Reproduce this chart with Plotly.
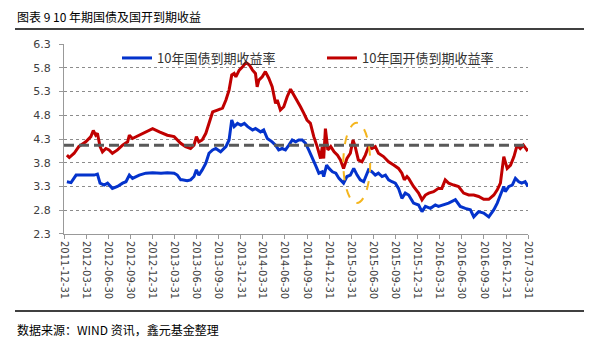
import plotly.graph_objects as go

# ---------------- data ----------------
cgb_dates = ["2012-01-12","2012-01-29","2012-02-19","2012-03-10","2012-04-07","2012-05-03","2012-05-17","2012-05-28",
             "2012-06-14","2012-06-28","2012-07-18","2012-08-08","2012-08-29","2012-09-12","2012-09-26","2012-10-09",
             "2012-11-06","2012-12-03","2012-12-31","2013-02-04","2013-03-02","2013-03-30","2013-04-12","2013-04-26",
             "2013-05-02","2013-05-23","2013-06-06","2013-06-20","2013-06-30","2013-07-10","2013-07-24","2013-08-08",
             "2013-08-21","2013-09-05","2013-09-18","2013-10-08","2013-10-30","2013-11-12","2013-11-23","2013-12-03",
             "2013-12-17","2013-12-31","2014-01-14","2014-01-28","2014-02-17","2014-03-01","2014-03-22","2014-04-04",
             "2014-04-19","2014-05-09","2014-05-23","2014-06-05","2014-06-19","2014-07-03","2014-07-17","2014-07-31",
             "2014-08-14","2014-08-27","2014-09-10","2014-09-24","2014-10-07","2014-10-21","2014-11-04","2014-11-18",
             "2014-12-02","2014-12-08","2014-12-20","2014-12-30","2015-01-13","2015-01-27","2015-02-09","2015-02-28",
             "2015-03-14","2015-03-28","2015-04-11","2015-04-25","2015-05-08","2015-05-22","2015-06-05","2015-06-11",
             "2015-06-25","2015-07-09","2015-07-22","2015-08-06","2015-08-20","2015-09-02","2015-09-16","2015-09-30",
             "2015-10-13","2015-10-27","2015-11-10","2015-11-24","2015-12-14","2016-01-04","2016-01-18","2016-02-01",
             "2016-02-22","2016-03-13","2016-03-26","2016-04-16","2016-05-07","2016-06-04","2016-06-24","2016-07-15",
             "2016-08-05","2016-08-19","2016-09-08","2016-09-29","2016-10-20","2016-11-10","2016-11-24","2016-12-07",
             "2016-12-21","2016-12-27","2017-01-11","2017-01-25","2017-02-07","2017-02-21","2017-03-05","2017-03-19",
             "2017-03-31"]
cgb_yield = [3.40,3.38,3.54,3.54,3.54,3.54,3.56,3.37,
             3.33,3.37,3.26,3.30,3.37,3.40,3.54,3.47,
             3.54,3.58,3.59,3.58,3.59,3.58,3.54,3.44,
             3.44,3.42,3.44,3.51,3.65,3.54,3.65,3.79,
             4.00,4.07,4.10,4.03,4.14,4.28,4.70,4.56,
             4.63,4.59,4.63,4.56,4.49,4.52,4.45,4.49,
             4.31,4.24,4.17,4.07,4.10,4.07,4.17,4.28,
             4.24,4.28,4.28,4.21,4.07,3.89,3.75,3.58,
             3.61,3.51,3.75,3.68,3.61,3.58,3.47,3.37,
             3.51,3.54,3.68,3.54,3.44,3.40,3.58,3.65,
             3.61,3.54,3.58,3.51,3.54,3.44,3.40,3.37,
             3.26,3.05,3.16,3.12,2.95,2.91,2.77,2.88,
             2.84,2.91,2.88,2.91,2.95,3.02,2.88,2.84,
             2.81,2.66,2.77,2.74,2.66,2.81,2.95,3.12,
             3.30,3.19,3.30,3.33,3.47,3.40,3.37,3.40,
             3.30]

cdb_dates = ["2012-01-12","2012-01-22","2012-02-11","2012-03-01","2012-03-30","2012-04-20","2012-04-30","2012-05-10",
             "2012-05-17","2012-05-28","2012-06-07","2012-06-21","2012-07-04","2012-07-18","2012-08-08","2012-08-29",
             "2012-09-19","2012-09-26","2012-10-09","2012-11-06","2012-12-03","2012-12-31","2013-01-28","2013-03-02",
             "2013-03-30","2013-04-12","2013-04-26","2013-05-16","2013-06-06","2013-06-20","2013-06-30","2013-07-10",
             "2013-07-24","2013-08-08","2013-08-21","2013-09-05","2013-09-25","2013-10-16","2013-10-30","2013-11-12",
             "2013-11-23","2013-12-03","2013-12-10","2013-12-24","2014-01-07","2014-01-21","2014-02-04","2014-02-17",
             "2014-03-01","2014-03-08","2014-03-15","2014-03-29","2014-04-11","2014-04-25","2014-05-09","2014-05-23",
             "2014-05-30","2014-06-12","2014-06-26","2014-07-10","2014-07-24","2014-08-07","2014-08-14","2014-09-03",
             "2014-09-17","2014-09-30","2014-10-14","2014-10-28","2014-11-11","2014-11-25","2014-12-02","2014-12-08",
             "2014-12-15","2014-12-25","2015-01-06","2015-01-20","2015-02-03","2015-02-15","2015-02-28","2015-03-14",
             "2015-03-28","2015-04-08","2015-04-17","2015-04-30","2015-05-15","2015-05-29","2015-06-11","2015-06-25",
             "2015-07-09","2015-07-22","2015-08-12","2015-09-02","2015-09-23","2015-10-13","2015-10-27","2015-11-06",
             "2015-11-17","2015-11-24","2015-12-14","2016-01-04","2016-01-18","2016-02-01","2016-02-15","2016-03-06",
             "2016-03-26","2016-04-09","2016-04-23","2016-05-07","2016-05-28","2016-06-17","2016-07-08","2016-07-29",
             "2016-08-19","2016-09-08","2016-09-29","2016-10-20","2016-11-10","2016-11-24","2016-12-07","2016-12-21",
             "2017-01-04","2017-01-18","2017-02-01","2017-02-14","2017-02-27","2017-03-12","2017-03-26","2017-03-31"]
cdb_yield = [3.96,3.91,4.00,4.14,4.24,4.35,4.48,4.38,
             4.42,4.14,4.03,4.10,4.07,4.00,4.07,4.17,
             4.24,4.38,4.31,4.38,4.45,4.52,4.45,4.38,
             4.35,4.28,4.21,4.14,4.10,4.17,4.35,4.24,
             4.28,4.42,4.63,4.87,4.91,4.95,5.12,5.33,
             5.65,5.68,5.61,5.75,5.82,5.91,5.86,5.75,
             5.68,5.40,5.54,5.61,5.72,5.58,5.40,5.05,
             5.12,4.91,4.98,5.19,5.35,5.23,5.16,4.98,
             4.84,4.70,4.63,4.35,4.14,3.89,4.14,3.89,
             4.52,4.07,4.14,4.03,3.96,3.86,3.68,3.89,
             4.00,4.28,4.14,3.86,3.82,3.96,4.14,4.10,
             4.14,4.00,3.93,3.82,3.75,3.68,3.58,3.44,
             3.51,3.47,3.30,3.16,3.02,3.12,3.16,3.19,
             3.26,3.26,3.44,3.37,3.33,3.30,3.16,3.12,
             3.12,3.09,3.03,3.03,3.12,3.23,3.37,3.93,
             3.68,3.75,3.93,4.17,4.10,4.17,4.07,4.10]

cdb_avg = 4.17

tick_dates = ["2011-12-31","2012-03-31","2012-06-30","2012-09-30","2012-12-31","2013-03-31","2013-06-30",
              "2013-09-30","2013-12-31","2014-03-31","2014-06-30","2014-09-30","2014-12-31","2015-03-31",
              "2015-06-30","2015-09-30","2015-12-31","2016-03-31","2016-06-30","2016-09-30","2016-12-31",
              "2017-03-31"]
y_ticks = [2.3, 2.8, 3.3, 3.8, 4.3, 4.8, 5.3, 5.8, 6.3]

name_cgb = "10年国债到期收益率"
name_cdb = "10年国开债到期收益率"
title_text = "图表 9 10 年期国债及国开到期收益"
source_text = "数据来源：WIND 资讯，鑫元基金整理"

# ---------------- layout helpers (screen px -> figure) ----------------
OFF = 8                      # page body margin
W, H = 599 - OFF, 356 - OFF  # figure size so it fits the window
PLOT_L, PLOT_R, PLOT_T, PLOT_B = 64, 528, 44, 234   # screen coords of plot area
L = PLOT_L - OFF
T = PLOT_T - OFF
R = W - (PLOT_R - OFF)
B = H - (PLOT_B - OFF)
PW, PH = W - L - R, H - T - B

def px(x):
    return (x - OFF - L) / PW

def py(y):
    return (H - B - (y - OFF)) / PH

CJK = "Noto Sans CJK SC"
BLUE = "#0433CC"
RED = "#C00000"

fig = go.Figure()
fig.add_trace(go.Scatter(x=cgb_dates, y=cgb_yield, mode="lines", name=name_cgb,
                         line=dict(color=BLUE, width=3)))
fig.add_trace(go.Scatter(x=cdb_dates, y=cdb_yield, mode="lines", name=name_cdb,
                         line=dict(color=RED, width=3)))

fig.update_layout(
    width=W, height=H,
    margin=dict(l=L, r=R, t=T, b=B, pad=0),
    paper_bgcolor="white", plot_bgcolor="white",
    showlegend=True,
    legend=dict(orientation="h", x=px(117), y=py(43), xanchor="left", yanchor="top",
                bgcolor="rgba(0,0,0,0)", font=dict(family=CJK, size=13, color="#333333"),
                entrywidth=160, entrywidthmode="pixels", itemwidth=30, tracegroupgap=0),
    xaxis=dict(type="date", range=["2011-12-31", "2017-03-31"],
               tickmode="array", tickvals=tick_dates, ticktext=tick_dates,
               tickangle=90, ticks="outside", ticklen=4, tickcolor="#999999",
               showline=True, linecolor="#999999", linewidth=1, showgrid=False, zeroline=False,
               tickfont=dict(family="DejaVu Sans", size=10, color="#404040")),
    yaxis=dict(range=[2.299, 6.301], tickmode="array", tickvals=y_ticks,
               ticktext=[f"{v:.1f}" for v in y_ticks],
               ticks="outside", ticklen=4, tickcolor="#999999", ticklabelstandoff=6,
               showline=True, linecolor="#999999", linewidth=1,
               showgrid=True, gridcolor="#8c8c8c", griddash="dot", gridwidth=1, zeroline=False,
               tickfont=dict(family="DejaVu Sans", size=11, color="#404040")),
)

shapes = [
    dict(type="line", xref="paper", yref="y", x0=0, x1=1, y0=cdb_avg, y1=cdb_avg,
         line=dict(color="#595959", width=3, dash="10px,5px"), layer="above"),
    dict(type="circle", xref="x", yref="y", x0="2015-02-27", x1="2015-06-18", y0=2.95, y1=4.64,
         line=dict(color="#F5B61E", width=2, dash="dash"), layer="above"),
    dict(type="line", xref="paper", yref="paper", x0=px(15), x1=px(584), y0=py(29), y1=py(29),
         line=dict(color="black", width=1.5)),
    dict(type="line", xref="paper", yref="paper", x0=px(15), x1=px(584), y0=py(311), y1=py(311),
         line=dict(color="black", width=1.5)),
]
fig.update_layout(shapes=shapes)

fig.add_annotation(text=title_text, xref="paper", yref="paper", x=px(15), y=py(16.5),
                   xanchor="left", yanchor="middle", showarrow=False,
                   font=dict(family=CJK, size=12, color="black"))
fig.add_annotation(text=source_text, xref="paper", yref="paper", x=px(15), y=py(329),
                   xanchor="left", yanchor="middle", showarrow=False,
                   font=dict(family=CJK, size=12, color="black"))

fig.write_html("out.html")
